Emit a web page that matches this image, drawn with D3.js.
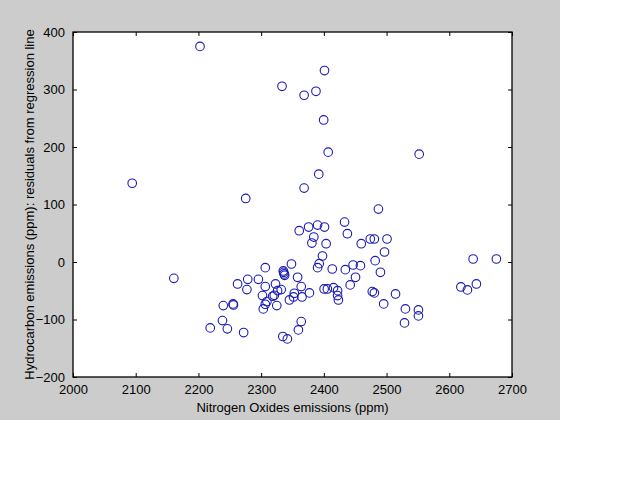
<!DOCTYPE html>
<html><head><meta charset="utf-8">
<script src="https://cdn.jsdelivr.net/npm/d3@7"></script>
<style>body{margin:0;background:#fff}svg{display:block}</style>
</head><body>
<script>
const noxValues = [2202.5,2094.4,2160.8,2275.4,2333.3,2368.5,2387.4,2401,2399.7,2406.9,2552,2391.9,2368.5,2487,2433,2437.5,2360.7,2375.7,2390,2401,2384,2380.9,2403.6,2459.6,2474,2480.5,2500.7,2496.7,2481.8,2397.8,2392.6,2390,2413.4,2434.2,2446.6,2458.3,2450.5,2490.2,2638,2675.1,2618.5,2628.9,2643.2,2514.3,2477.2,2480.5,2495.4,2530,2550.8,2550.8,2528.6,2442,2400.4,2405.6,2415.4,2421.9,2421.9,2423.2,2348.3,2306.6,2335.3,2336.6,2336,2337.5,2358.1,2278.6,2295.6,2262.4,2277.3,2306.6,2322.9,2332,2326.2,2363.9,2352.9,2377,2302.1,2318.4,2321,2351.6,2365.2,2345.1,2309.2,2306.6,2303.4,2324.9,2239.6,2255.2,2255.9,2238.3,2218.8,2246.1,2272.1,2363.9,2359.4,2334.6,2341.8];
const hcResiduals = [375,137,-28.4,110.5,305.6,290,296.9,333,247,191,187.5,152.8,128.5,92,69.4,49.2,54.4,60.8,64.2,60.8,43.4,33,31.8,31.8,40,40,40,17.4,2.3,10.4,-2.9,-9.8,-12.2,-13.3,-5.2,-6.4,-26.6,-17.9,5.2,5.2,-43.4,-48.6,-38.2,-55.6,-51.5,-53.8,-72.9,-81.6,-83.3,-93.8,-105.9,-39.9,-46.9,-46.9,-44.6,-49.8,-58.4,-66,-3.5,-9.8,-15.6,-20.8,-18,-23.1,-26.6,-30.1,-30.1,-38.2,-48,-42.8,-38.2,-48,-49.8,-42.8,-54.4,-53.8,-58.4,-59.6,-57.9,-60.8,-60.8,-66,-68.9,-73.5,-81.6,-75.8,-75.8,-72.9,-74.7,-101.9,-114.6,-116.3,-122.7,-103.6,-118.1,-129.6,-133.7];
const xTicks = [2000,2100,2200,2300,2400,2500,2600,2700];
const yTicks = [-200,-100,0,100,200,300,400];
const xLabel = "Nitrogen Oxides emissions (ppm)";
const yLabel = "Hydrocarbon emissions (ppm): residuals from regression line";

const W = 640, H = 480;
const svg = d3.select("body").append("svg").attr("width", W).attr("height", H);
svg.append("rect").attr("x",0).attr("y",0).attr("width",560).attr("height",420).attr("fill","#cccccc");

const L = 73, R = 512, T = 32, B = 377;
const x = d3.scaleLinear().domain([2000,2700]).range([L,R]);
const y = d3.scaleLinear().domain([-200,400]).range([B,T]);

svg.append("rect").attr("x",L).attr("y",T).attr("width",R-L).attr("height",B-T).attr("fill","#fff");

const font = "'Liberation Sans', Arial, sans-serif";
const fs = 13;

const gx = svg.append("g").attr("transform",`translate(0,${B})`)
  .call(d3.axisBottom(x).tickValues(xTicks).tickFormat(d3.format("d")).tickSizeInner(-4).tickSizeOuter(0).tickPadding(8));
const gxt = svg.append("g").attr("transform",`translate(0,${T})`)
  .call(d3.axisTop(x).tickValues(xTicks).tickFormat("").tickSizeInner(-4).tickSizeOuter(0));
const gy = svg.append("g").attr("transform",`translate(${L},0)`)
  .call(d3.axisLeft(y).tickValues(yTicks).tickFormat(d3.format("d")).tickSizeInner(-4).tickSizeOuter(0).tickPadding(8));
const gyr = svg.append("g").attr("transform",`translate(${R},0)`)
  .call(d3.axisRight(y).tickValues(yTicks).tickFormat("").tickSizeInner(-4).tickSizeOuter(0));
[gx,gxt,gy,gyr].forEach(g=>{
  g.select(".domain").remove();
  g.selectAll(".tick line").attr("stroke","#000").attr("stroke-width",1);
  g.selectAll("text").attr("font-family",font).attr("font-size",fs).attr("fill","#000");
});
svg.append("rect").attr("x",L).attr("y",T).attr("width",R-L).attr("height",B-T)
  .attr("fill","none").attr("stroke","#000").attr("stroke-width",1.3);

svg.append("g").selectAll("circle").data(noxValues.map((v,i)=>[v,hcResiduals[i]]))
  .enter().append("circle")
  .attr("cx",d=>x(d[0])).attr("cy",d=>y(d[1])).attr("r",4.3)
  .attr("fill","none").attr("stroke","#1a1ab4").attr("stroke-width",1.1);

svg.append("text").attr("x",(L+R)/2).attr("y",412).attr("text-anchor","middle")
  .attr("font-family",font).attr("font-size",fs).attr("fill","#000").text(xLabel);
svg.append("text").attr("transform",`translate(34,${(T+B)/2}) rotate(-90)`).attr("text-anchor","middle")
  .attr("font-family",font).attr("font-size",fs).attr("fill","#000").text(yLabel);
</script>
</body></html>
